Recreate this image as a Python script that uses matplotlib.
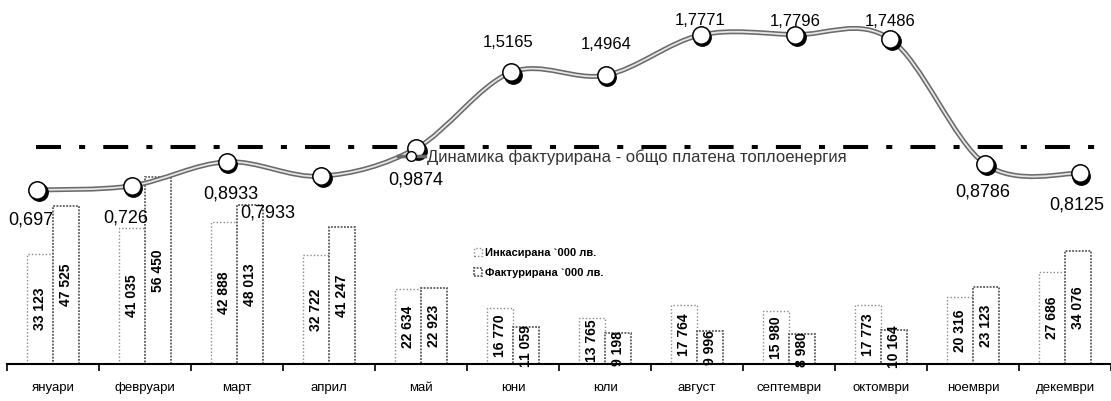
import matplotlib
matplotlib.use("Agg")
import matplotlib.pyplot as plt
import numpy as np
from matplotlib.path import Path
from matplotlib.patches import PathPatch
from matplotlib.lines import Line2D
import matplotlib.transforms as mtransforms

plt.rcParams['font.family'] = ['Liberation Sans', 'DejaVu Sans']

months = ["януари", "февруари", "март", "април", "май", "юни", "юли",
          "август", "септември", "октомври", "ноември", "декември"]
collected = [33123, 41035, 42888, 32722, 22634, 16770, 13765, 17764, 15980, 17773, 20316, 27686]
invoiced = [47525, 56450, 48013, 41247, 22923, 11059, 9198, 9996, 8980, 10164, 23123, 34076]
ratio = [0.697, 0.726, 0.8933, 0.7933, 0.9874, 1.5165, 1.4964, 1.7771, 1.7796, 1.7486, 0.8786, 0.8125]
threshold = 1.0
label_collected = "Инкасирана `000 лв."
label_invoiced = "Фактурирана `000 лв."
label_ratio = "Динамика фактурирана - общо платена топлоенергия"

# label offsets in pixels (dx, dy) for ratio labels
ratio_offsets = [(-6, -30), (-6, -32), (4, -32), (-54, -37), (0, -32), (-3, 30),
                 (0, 31), (0, 15), (0, 13), (0, 18), (-2, -28), (-3, -32)]

W, H = 1111, 401
fig = plt.figure(figsize=(W / 100, H / 100), dpi=100)
fig.patch.set_facecolor("white")

# ---------------- bar axes ----------------
ax = fig.add_axes([7 / W, 37 / H, 1104 / W, 364 / H])
ax.set_facecolor("none")
x = np.arange(len(months))
bw = 0.28
b1 = ax.bar(x - bw / 2, collected, bw, facecolor="white", edgecolor="#8a8a8a",
            linewidth=1.0, linestyle=(0, (1, 1.5)), label=label_collected, zorder=2)
b2 = ax.bar(x + bw / 2, invoiced, bw, facecolor="white", edgecolor="#5a5a5a",
            linewidth=1.3, linestyle=(0, (1, 0.8)), label=label_invoiced, zorder=2)
for xi, v in zip(x, collected):
    ax.text(xi - bw / 2, v / 2, f"{v:,}".replace(",", " "), rotation=90,
            ha="center", va="center", fontsize=10, fontweight="bold", zorder=3)
for xi, v in zip(x, invoiced):
    ax.text(xi + bw / 2, v / 2, f"{v:,}".replace(",", " "), rotation=90,
            ha="center", va="center", fontsize=10, fontweight="bold", zorder=3)

ax.set_xlim(-0.5, -0.5 + 1104 / 92.8)
ax.set_ylim(0, 109600)
for s in ["top", "right", "left"]:
    ax.spines[s].set_visible(False)
ax.spines["bottom"].set_linewidth(1.5)
ax.set_yticks([])
ax.set_xticks(x)
ax.set_xticklabels(months, fontsize=9.5)
ax.tick_params(axis="x", which="major", length=0, pad=13)
ax.set_xticks(np.arange(-0.5, 12.5, 1), minor=True)
ax.tick_params(axis="x", which="minor", length=5, width=1.2, direction="out")

leg1 = ax.legend(handles=[b1, b2], loc="upper left",
                 bbox_to_anchor=(474 / W, 1 - 248 / H), bbox_transform=fig.transFigure,
                 frameon=False, prop={"size": 8, "weight": "bold"},
                 handlelength=0.7, handleheight=0.7, handletextpad=0.3,
                 labelspacing=0.9, borderpad=0, borderaxespad=0)

# ---------------- line axes ----------------
ax2 = fig.add_axes([0, 0, 1, 1])
ax2.set_facecolor("none")
ax2.set_xlim(-37 / 94.8, (W - 37) / 94.8)
ax2.set_ylim(0.697 - 211 / 143.5, 0.697 + 190 / 143.5)
ax2.axis("off")

ax2.axhline(threshold, xmin=36 / W, xmax=1105 / W, color="black", lw=2.9,
            dashes=(6.2, 4.5, 1.5, 4.5), zorder=1)

# smooth curve via cubic Bezier (Catmull-Rom control points)
P = np.column_stack([x, ratio]).astype(float)
n = len(P)
verts = [tuple(P[0])]
codes = [Path.MOVETO]
for i in range(n - 1):
    p0 = P[max(i - 1, 0)]
    p1 = P[i]
    p2 = P[i + 1]
    p3 = P[min(i + 2, n - 1)]
    c1 = p1 + (p2 - p0) / 6
    c2 = p2 - (p3 - p1) / 6
    verts += [tuple(c1), tuple(c2), tuple(p2)]
    codes += [Path.CURVE4] * 3
path = Path(verts, codes)
ax2.add_patch(PathPatch(path, facecolor="none", edgecolor="#6a6a6a", lw=3.6, zorder=2))
ax2.add_patch(PathPatch(path, facecolor="none", edgecolor="#e6e6e6", lw=1.3, zorder=2))

shadow = mtransforms.offset_copy(ax2.transData, fig=fig, x=1.6, y=-2.2, units="dots")
ax2.plot(x, ratio, "o", ms=12.5, color="black", transform=shadow, zorder=3)
ax2.plot(x, ratio, "o", ms=12.5, markerfacecolor="white", markeredgecolor="black",
         markeredgewidth=1.1, linestyle="none", zorder=4)

for xi, v, (dx, dy) in zip(x, ratio, ratio_offsets):
    fs = 12 if dy > 0 else 13
    ax2.annotate(str(v).replace(".", ","), (xi, v), xytext=(dx, dy),
                 textcoords="offset pixels", ha="center", va="center",
                 fontsize=fs, zorder=5)

h_line = Line2D([], [], color="#6a6a6a", lw=2.5, marker="o", ms=7,
                markerfacecolor="white", markeredgecolor="black")
ax2.legend(handles=[h_line], labels=[label_ratio], loc="center left",
           bbox_to_anchor=(398 / W, 1 - 157 / H), bbox_transform=fig.transFigure,
           frameon=False, fontsize=12, handlelength=1.6, handletextpad=0.15,
           borderpad=0, borderaxespad=0, labelcolor="#333333")

fig.savefig("out.png", dpi=100, facecolor="white")
